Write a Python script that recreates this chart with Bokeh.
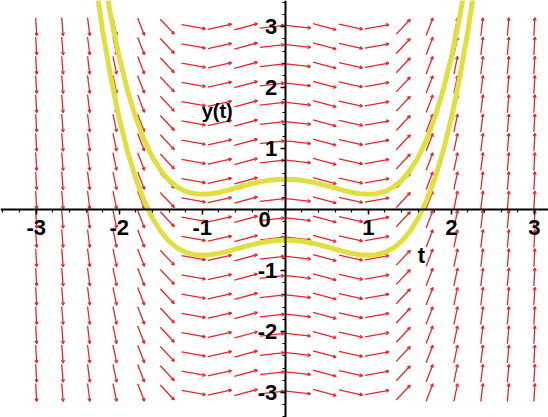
import numpy as np
from bokeh.plotting import figure
from bokeh.models import Range1d, SingleIntervalTicker, Arrow, OpenHead, ColumnDataSource
from bokeh.core.properties import value
from bokeh.embed import file_html
from bokeh.resources import INLINE

# Direction-field grid (20 x 20) and slope dy/dt at each t column
t_grid = [-3.0, -2.684, -2.368, -2.053, -1.737, -1.421, -1.105, -0.789, -0.474, -0.158,
          0.158, 0.474, 0.789, 1.105, 1.421, 1.737, 2.053, 2.368, 2.684, 3.0]
y_grid = [-3.0, -2.684, -2.368, -2.053, -1.737, -1.421, -1.105, -0.789, -0.474, -0.158,
          0.158, 0.474, 0.789, 1.105, 1.421, 1.737, 2.053, 2.368, 2.684, 3.0]
slopes = [-24.0, -16.65, -10.91, -6.60, -3.50, -1.45, -0.244, 0.298, 0.367, 0.154,
          -0.154, -0.367, -0.298, 0.244, 1.45, 3.50, 6.60, 10.91, 16.65, 24.0]

# Two solution curves
curve_t = [-2.3, -2.2, -2.1, -2.0, -1.9, -1.8, -1.7, -1.6, -1.5, -1.4, -1.3, -1.2, -1.1, -1.0,
           -0.9, -0.8, -0.7, -0.6, -0.5, -0.4, -0.3, -0.2, -0.1, 0.0,
           0.1, 0.2, 0.3, 0.4, 0.5, 0.6, 0.7, 0.8, 0.9, 1.0, 1.1, 1.2, 1.3, 1.4,
           1.5, 1.6, 1.7, 1.8, 1.9, 2.0, 2.1, 2.2, 2.3]
upper_y = [4.851, 3.936, 3.157, 2.500, 1.953, 1.504, 1.143, 0.858, 0.641, 0.480, 0.369, 0.298, 0.261, 0.250,
           0.259, 0.282, 0.315, 0.352, 0.391, 0.426, 0.457, 0.480, 0.495, 0.500,
           0.495, 0.480, 0.457, 0.426, 0.391, 0.352, 0.315, 0.282, 0.259, 0.250, 0.261, 0.298, 0.369, 0.480,
           0.641, 0.858, 1.143, 1.504, 1.953, 2.500, 3.157, 3.936, 4.851]
lower_y = [3.851, 2.936, 2.157, 1.500, 0.953, 0.504, 0.143, -0.142, -0.359, -0.520, -0.631, -0.702, -0.739, -0.750,
           -0.741, -0.718, -0.685, -0.648, -0.609, -0.574, -0.543, -0.520, -0.505, -0.500,
           -0.505, -0.520, -0.543, -0.574, -0.609, -0.648, -0.685, -0.718, -0.741, -0.750, -0.739, -0.702, -0.631, -0.520,
           -0.359, -0.142, 0.143, 0.504, 0.953, 1.500, 2.157, 2.936, 3.851]

tick_values = [-3, -2, -1, 0, 1, 2, 3]
x_tick_labels = ["-3", "-2", "-1", "", "1", "2", "3"]
y_tick_labels = ["-3", "-2", "-1", "", "1", "2", "3"]

RED = "#e3262f"
YELLOW = "#dfe040"
FONT = "Liberation Sans"

p = figure(width=548, height=417, x_range=Range1d(-3.43, 3.17), y_range=Range1d(-3.41, 3.43),
           output_backend="svg", toolbar_location=None, min_border=0)
p.outline_line_color = None
p.grid.visible = False
p.background_fill_color = "white"

# direction field arrows (centred on grid points, normalised length)
cell = t_grid[1] - t_grid[0]
T, Y = np.meshgrid(np.array(t_grid), np.array(y_grid))
S = np.meshgrid(np.array(slopes), np.array(y_grid))[0]
norm = np.sqrt(1.0 + S ** 2)
half = 0.47 * cell
dt = half / norm
dy = half * S / norm
src = ColumnDataSource(dict(x0=(T - dt).ravel(), y0=(Y - dy).ravel(),
                            x1=(T + dt).ravel(), y1=(Y + dy).ravel()))
arrows = Arrow(source=src, x_start="x0", y_start="y0", x_end="x1", y_end="y1",
               line_color=RED, line_width=1.3, level="underlay",
               end=OpenHead(size=3, line_color=RED, line_width=1.2))
p.add_layout(arrows)

# solution curves
p.line(curve_t, upper_y, line_color=YELLOW, line_width=5)
p.line(curve_t, lower_y, line_color=YELLOW, line_width=5)

for ax in (p.xaxis, p.yaxis):
    ax.fixed_location = 0
    ax.ticker = SingleIntervalTicker(interval=1, num_minor_ticks=5)
    ax.axis_line_color = "black"
    ax.axis_line_width = 2
    ax.major_tick_in = 0
    ax.major_tick_out = 5
    ax.minor_tick_in = 0
    ax.minor_tick_out = 3
    ax.major_tick_line_width = 1.5
    ax.minor_tick_line_width = 1.2
    ax.major_label_text_font = FONT
    ax.major_label_text_font_style = "bold"
    ax.major_label_text_font_size = "22px"
    ax.major_label_text_color = "black"

p.xaxis.major_label_overrides = {v: s for v, s in zip(tick_values, x_tick_labels)}
p.yaxis.major_label_overrides = {v: s for v, s in zip(tick_values, y_tick_labels)}
p.xaxis.major_label_standoff = 5
p.yaxis.major_label_standoff = 3

# origin label and axis titles
p.text(x=[-0.25], y=[-0.16], text=["0"], text_font=value(FONT), text_font_style="bold",
       text_font_size="22px", text_align="center", text_baseline="middle", text_color="black")
p.text(x=[1.64], y=[-0.75], text=["t"], text_font=value(FONT), text_font_style="bold",
       text_font_size="22px", text_align="center", text_baseline="middle", text_color="black")
p.text(x=[-0.82], y=[1.62], text=["y(t)"], text_font=value(FONT), text_font_style="bold",
       text_font_size="20px", text_align="center", text_baseline="middle", text_color="black")

open("out.html", "w").write(file_html(p, INLINE))
